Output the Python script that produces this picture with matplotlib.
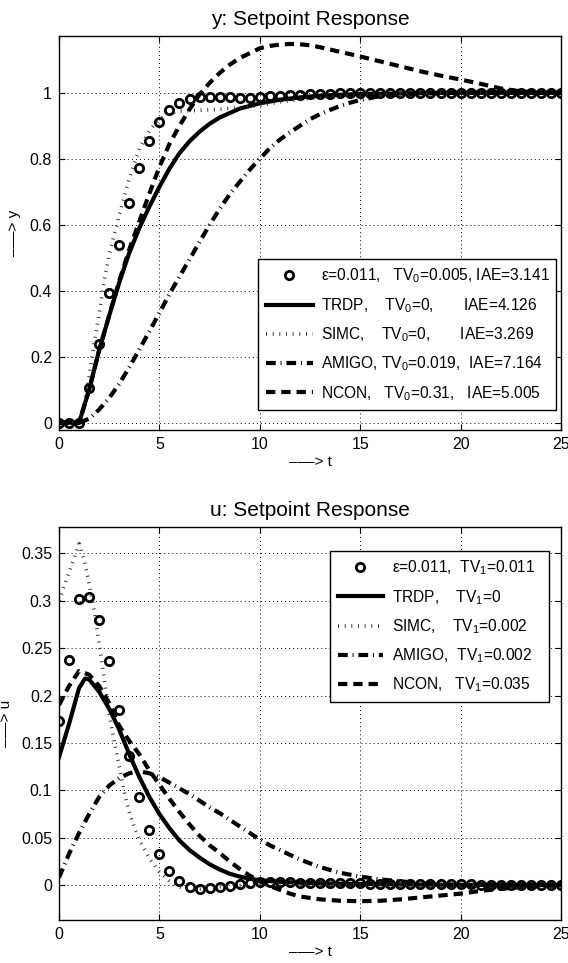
import matplotlib
matplotlib.use('Agg')
import matplotlib.pyplot as plt

plt.rcParams['font.family'] = ['Liberation Sans', 'DejaVu Sans']
plt.rcParams['mathtext.default'] = 'regular'
plt.rcParams['lines.scale_dashes'] = False

# ---------- y: setpoint response ----------
t_eps = [0, 0.5, 1, 1.5, 2, 2.5, 3, 3.5, 4, 4.5, 5, 5.5, 6, 6.5, 7, 7.5, 8, 8.5, 9, 9.5,
         10, 10.5, 11, 11.5, 12, 12.5, 13, 13.5, 14, 14.5, 15, 15.5, 16, 16.5, 17, 17.5,
         18, 18.5, 19, 19.5, 20, 20.5, 21, 21.5, 22, 22.5, 23, 23.5, 24, 24.5, 25]
y_eps = [0, 0, 0, 0.106, 0.238, 0.392, 0.539, 0.667, 0.772, 0.853, 0.910, 0.948, 0.970,
         0.982, 0.987, 0.988, 0.987, 0.986, 0.985, 0.985, 0.987, 0.989, 0.991, 0.993,
         0.994, 0.995, 0.996, 0.997, 0.998, 0.998, 0.999, 0.999, 0.999, 1, 1, 1, 1, 1, 1,
         1, 1, 1, 1, 1, 1, 1, 1, 1, 1, 1, 1]

t_trdp = [0, 1, 1.5, 2, 2.5, 3, 3.5, 4, 4.5, 5, 5.5, 6, 6.5, 7, 7.5, 8, 9, 10, 11, 12,
          13, 14, 15, 17, 20, 25]
y_trdp = [0, 0, 0.1, 0.22, 0.325, 0.425, 0.515, 0.59, 0.655, 0.715, 0.77, 0.817, 0.853,
          0.882, 0.906, 0.925, 0.952, 0.968, 0.979, 0.986, 0.991, 0.994, 0.996, 0.998,
          1, 1]

t_simc = [0, 1, 1.25, 1.5, 1.75, 2, 2.25, 2.5, 3, 3.5, 4, 4.5, 5, 5.5, 6, 7, 8, 9, 10,
          11, 12, 13, 14, 16, 18, 20, 25]
y_simc = [0, 0, 0.05, 0.14, 0.24, 0.33, 0.43, 0.51, 0.63, 0.74, 0.83, 0.885, 0.92,
          0.937, 0.944, 0.947, 0.95, 0.955, 0.962, 0.972, 0.98, 0.986, 0.99, 0.995,
          0.998, 1, 1]

t_amigo = [0, 1, 1.5, 2, 2.5, 3, 3.5, 4, 4.5, 5, 5.5, 6, 6.5, 7, 7.5, 8, 8.5, 9, 9.5,
           10, 10.5, 11, 11.5, 12, 12.5, 13, 13.5, 14, 14.5, 15, 16, 17, 18, 20, 25]
y_amigo = [0, 0, 0.012, 0.04, 0.075, 0.118, 0.168, 0.222, 0.277, 0.333, 0.39, 0.443,
           0.495, 0.548, 0.6, 0.648, 0.692, 0.73, 0.767, 0.8, 0.832, 0.858, 0.88, 0.9,
           0.92, 0.935, 0.948, 0.96, 0.97, 0.978, 0.99, 0.995, 0.998, 1, 1]

t_ncon = [0, 1, 1.5, 2, 2.5, 3, 3.5, 4, 4.5, 5, 5.5, 6, 6.5, 7, 7.5, 8, 8.5, 9, 9.5, 10,
          10.5, 11, 11.5, 12, 12.5, 13, 13.5, 14, 15, 16, 17, 18, 19, 20, 21, 22, 23,
          24, 25]
y_ncon = [0, 0, 0.1, 0.22, 0.325, 0.43, 0.525, 0.61, 0.695, 0.775, 0.845, 0.9, 0.95,
          0.995, 1.03, 1.06, 1.085, 1.105, 1.12, 1.135, 1.142, 1.146, 1.148, 1.147,
          1.144, 1.138, 1.131, 1.124, 1.11, 1.095, 1.08, 1.065, 1.052, 1.04, 1.027,
          1.013, 1.004, 1.0, 0.999]

# ---------- u: setpoint response ----------
u_eps = [0.173, 0.238, 0.302, 0.304, 0.28, 0.236, 0.185, 0.136, 0.093, 0.058, 0.033,
         0.015, 0.004, -0.002, -0.004, -0.0035, -0.0023, -0.0006, 0.0012, 0.0022,
         0.003, 0.0033, 0.0033, 0.003, 0.0027, 0.0025, 0.0023, 0.0021, 0.002, 0.0019,
         0.0018, 0.0017, 0.0016, 0.0015, 0.0014, 0.0013, 0.0012, 0.0011, 0.001, 0.0009,
         0.0008, 0.0007, 0.0006, 0.0005, 0.0004, 0.0003, 0.0002, 0.0002, 0.0001, 0.0001, 0]

t_trdp_u = [0, 0.5, 1, 1.3, 1.5, 2, 2.5, 3, 3.5, 4, 4.5, 5, 5.5, 6, 6.5, 7, 7.5, 8, 8.5,
            9, 9.5, 10, 11, 12, 14, 17, 20, 25]
u_trdp = [0.135, 0.17, 0.208, 0.218, 0.217, 0.204, 0.186, 0.164, 0.138, 0.114, 0.093,
          0.075, 0.06, 0.047, 0.037, 0.029, 0.022, 0.0165, 0.012, 0.009, 0.0068, 0.005,
          0.0035, 0.0025, 0.0015, 0.0008, 0.0003, 0]

t_simc_u = [0, 0.25, 0.5, 0.75, 1, 1.25, 1.5, 1.75, 2, 2.25, 2.5, 2.75, 3, 3.25, 3.5,
            3.75, 4, 4.5, 5, 5.5, 6, 6.5, 7, 7.5, 8, 9, 10, 12, 15, 20, 25]
u_simc = [0.3, 0.315, 0.33, 0.345, 0.36, 0.343, 0.318, 0.29, 0.255, 0.217, 0.18, 0.152,
          0.125, 0.098, 0.077, 0.061, 0.048, 0.028, 0.014, 0.004, -0.002, -0.004, -0.004,
          -0.003, -0.002, -0.0005, 0.0005, 0.001, 0.0005, 0, 0]

t_amigo_u = [0, 0.5, 1, 1.5, 2, 2.5, 3, 3.5, 4, 4.5, 5, 5.5, 6, 6.5, 7, 7.5, 8, 8.5, 9,
             9.5, 10, 10.5, 11, 11.5, 12, 12.5, 13, 13.5, 14, 15, 16, 17, 18, 19, 20,
             21, 22, 23, 24, 25]
u_amigo = [0.008, 0.033, 0.055, 0.075, 0.093, 0.105, 0.113, 0.118, 0.12, 0.118, 0.114,
           0.108, 0.102, 0.096, 0.089, 0.082, 0.076, 0.069, 0.062, 0.055, 0.048, 0.042,
           0.037, 0.032, 0.027, 0.023, 0.019, 0.016, 0.013, 0.009, 0.006, 0.004, 0.002,
           0.0008, 0, -0.0005, -0.0008, -0.0006, -0.0003, 0]

t_ncon_u = [0, 0.5, 1, 1.5, 2, 2.5, 3, 3.5, 4, 4.5, 5, 5.5, 6, 6.5, 7, 7.5, 8, 8.5, 9,
            9.5, 10, 10.5, 11, 11.5, 12, 13, 14, 15, 16, 17, 18, 19, 20, 21, 22, 23, 24, 25]
u_ncon = [0.19, 0.21, 0.226, 0.222, 0.21, 0.192, 0.168, 0.152, 0.138, 0.121, 0.106,
          0.091, 0.077, 0.064, 0.052, 0.042, 0.034, 0.025, 0.017, 0.01, 0.004, -0.001,
          -0.005, -0.009, -0.012, -0.015, -0.0165, -0.017, -0.0165, -0.015, -0.013,
          -0.011, -0.009, -0.006, -0.004, -0.002, -0.001, 0]

labels_y = ['ε=0.011,   TV$_0$=0.005, IAE=3.141',
            'TRDP,    TV$_0$=0,       IAE=4.126',
            'SIMC,    TV$_0$=0,       IAE=3.269',
            'AMIGO, TV$_0$=0.019,  IAE=7.164',
            'NCON,   TV$_0$=0.31,   IAE=5.005']
labels_u = ['ε=0.011,  TV$_1$=0.011',
            'TRDP,    TV$_1$=0',
            'SIMC,    TV$_1$=0.002',
            'AMIGO,  TV$_1$=0.002',
            'NCON,   TV$_1$=0.035']

yticks_y = [0, 0.2, 0.4, 0.6, 0.8, 1]
yticks_u = [0, 0.05, 0.1, 0.15, 0.2, 0.25, 0.3, 0.35]
xticks = [0, 5, 10, 15, 20, 25]

# line styles
ST_EPS = dict(linestyle='none', marker='o', ms=6.0, mew=2.0, mfc='none', mec='k')
ST_TRDP = dict(color='k', lw=3.0, linestyle='-')
ST_SIMC = dict(color='0.2', lw=2.6, dashes=(0.7, 4.1))
ST_AMIGO = dict(color='k', lw=3.0, dashes=(7, 3.5, 0.7, 3.5))
ST_NCON = dict(color='k', lw=3.0, dashes=(6.7, 4.3))

fig = plt.figure(figsize=(5.68, 9.63), dpi=100)


def style_axes(ax, yticks, ylim, title, ylabel):
    ax.set_xlim(0, 25)
    ax.set_ylim(*ylim)
    ax.set_xticks(xticks)
    ax.set_xticklabels([str(v) for v in xticks])
    ax.set_yticks(yticks)
    ax.set_yticklabels([('%g' % v) for v in yticks])
    ax.tick_params(direction='in', top=True, right=True, length=4, width=0.8,
                   labelsize=11.5, pad=5)
    ax.grid(True, color='k', linestyle=(0, (0.7, 2.2)), lw=0.7)
    for s in ax.spines.values():
        s.set_linewidth(1.0)
    ax.set_title(title, fontsize=15, pad=8)
    ax.set_xlabel('\u2013\u2013\u2013> t', fontsize=11, labelpad=2)
    ax.set_ylabel('\u2013\u2013\u2013> ' + ylabel, fontsize=11, labelpad=6)


ax1 = fig.add_axes([0.1039, 0.5535, 0.8838, 0.4091])
ax1.plot(t_eps, y_eps, label=labels_y[0], **ST_EPS)
ax1.plot(t_trdp, y_trdp, label=labels_y[1], **ST_TRDP)
ax1.plot(t_simc, y_simc, label=labels_y[2], **ST_SIMC)
ax1.plot(t_amigo, y_amigo, label=labels_y[3], **ST_AMIGO)
ax1.plot(t_ncon, y_ncon, label=labels_y[4], **ST_NCON)
style_axes(ax1, yticks_y, (-0.022, 1.172), 'y: Setpoint Response', 'y')
leg1 = ax1.legend(loc='upper left', bbox_to_anchor=(0.397, 0.434, 0.593, 0),
                  mode='expand', borderaxespad=0, fontsize=11.2, numpoints=1,
                  handlelength=3.0, handletextpad=0.55, borderpad=0.5,
                  labelspacing=0.68, fancybox=False, framealpha=1, edgecolor='k')
leg1.get_frame().set_linewidth(1.0)

ax2 = fig.add_axes([0.1039, 0.04465, 0.8838, 0.4083])
ax2.plot(t_eps, u_eps, label=labels_u[0], **ST_EPS)
ax2.plot(t_trdp_u, u_trdp, label=labels_u[1], **ST_TRDP)
ax2.plot(t_simc_u, u_simc, label=labels_u[2], **ST_SIMC)
ax2.plot(t_amigo_u, u_amigo, label=labels_u[3], **ST_AMIGO)
ax2.plot(t_ncon_u, u_ncon, label=labels_u[4], **ST_NCON)
style_axes(ax2, yticks_u, (-0.0368, 0.378), 'u: Setpoint Response', 'u')
leg2 = ax2.legend(loc='upper left', bbox_to_anchor=(0.540, 0.939, 0.436, 0),
                  mode='expand', borderaxespad=0, fontsize=11.2, numpoints=1,
                  handlelength=2.9, handletextpad=0.55, borderpad=0.5,
                  labelspacing=0.68, fancybox=False, framealpha=1, edgecolor='k')
leg2.get_frame().set_linewidth(1.0)

fig.savefig('out.png', dpi=100)
plt.close(fig)
